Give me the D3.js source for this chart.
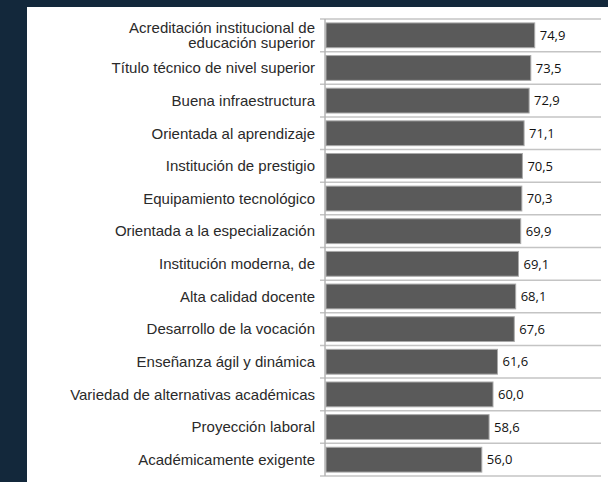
<!DOCTYPE html>
<html>
<head>
<meta charset="utf-8">
<script src="https://cdn.jsdelivr.net/npm/d3@7"></script>
<style>
  body { margin: 0; background: #13283b; }
  #chart { position: absolute; left: 27px; top: 7px; width: 581px; height: 475px; background: #fff; }
</style>
</head>
<body>
<div id="chart"></div>
<script>
// categorias (primera etiqueta en dos lineas)
const categorias = [
  ["Acreditación institucional de", "educación superior"],
  ["Título técnico de nivel superior"],
  ["Buena infraestructura"],
  ["Orientada al aprendizaje"],
  ["Institución de prestigio"],
  ["Equipamiento tecnológico"],
  ["Orientada a la especialización"],
  ["Institución moderna, de"],
  ["Alta calidad docente"],
  ["Desarrollo de la vocación"],
  ["Enseñanza ágil y dinámica"],
  ["Variedad de alternativas académicas"],
  ["Proyección laboral"],
  ["Académicamente exigente"]
];
const valores = [74.9, 73.5, 72.9, 71.1, 70.5, 70.3, 69.9, 69.1, 68.1, 67.6, 61.6, 60.0, 58.6, 56.0];

const margin = {top: 12, right: 3, bottom: 6, left: 298},
    width = 581 - margin.left - margin.right,
    height = 475 - margin.top - margin.bottom;

const data = valores.map((v, i) => ({id: i, lines: categorias[i], valor: v}));

const svg = d3.select("#chart").append("svg")
    .attr("width", 581)
    .attr("height", 475)
    .append("g")
    .attr("transform", "translate(" + margin.left + "," + margin.top + ")");

const x = d3.scaleLinear()
    .domain([0, 100])
    .range([0, 280]);

// paddingOuter = paddingInner/2 -> step = height / n
const y = d3.scaleBand()
    .domain(data.map(d => d.id))
    .range([0, height])
    .paddingInner(0.24)
    .paddingOuter(0.12);

const step = y.step();
const bounds = d3.range(data.length + 1).map(i => i * step);

// lineas horizontales entre categorias
svg.append("g")
    .selectAll("line")
    .data(bounds)
    .enter().append("line")
    .attr("x1", -5)
    .attr("x2", width - 4)
    .attr("y1", d => d)
    .attr("y2", d => d)
    .style("stroke", "#c4c4c4")
    .style("stroke-width", 1.5);

// eje vertical
svg.append("line")
    .attr("x1", 0).attr("x2", 0)
    .attr("y1", 0).attr("y2", height)
    .style("stroke", "#b5b5b5")
    .style("stroke-width", 1.5);

svg.selectAll("rect.barra")
    .data(data)
    .enter().append("rect")
    .attr("class", "barra")
    .attr("x", x(0) + 1)
    .attr("y", d => y(d.id))
    .attr("width", d => x(d.valor) - 1)
    .attr("height", y.bandwidth())
    .style("fill", "#5a5a5a")
    .style("stroke", "#a9a9a9")
    .style("stroke-width", 1);

// valores
svg.selectAll("text.valor")
    .data(data)
    .enter().append("text")
    .attr("class", "valor")
    .attr("x", d => x(d.valor) + 5)
    .attr("y", d => y(d.id) + y.bandwidth() / 2)
    .attr("dy", "0.36em")
    .style("font-family", "'Open Sans', sans-serif")
    .style("font-size", "13px")
    .style("fill", "#111")
    .text(d => d3.format(".1f")(d.valor).replace(".", ","));

// etiquetas de categoria
const lh = 15.5;
const labels = svg.selectAll("text.cat")
    .data(data)
    .enter().append("text")
    .attr("class", "cat")
    .attr("text-anchor", "end")
    .attr("transform", d => "translate(-10," + (y(d.id) + y.bandwidth() / 2) + ")")
    .style("font-family", "'Liberation Sans', Arial, sans-serif")
    .style("font-size", "15px")
    .style("fill", "#2a2a2a");

labels.selectAll("tspan")
    .data(d => d.lines.map((t, i) => ({t: t, i: i, n: d.lines.length})))
    .enter().append("tspan")
    .attr("x", 0)
    .attr("y", d => (d.i - (d.n - 1) / 2) * lh)
    .attr("dy", "0.35em")
    .text(d => d.t);
</script>
</body>
</html>
